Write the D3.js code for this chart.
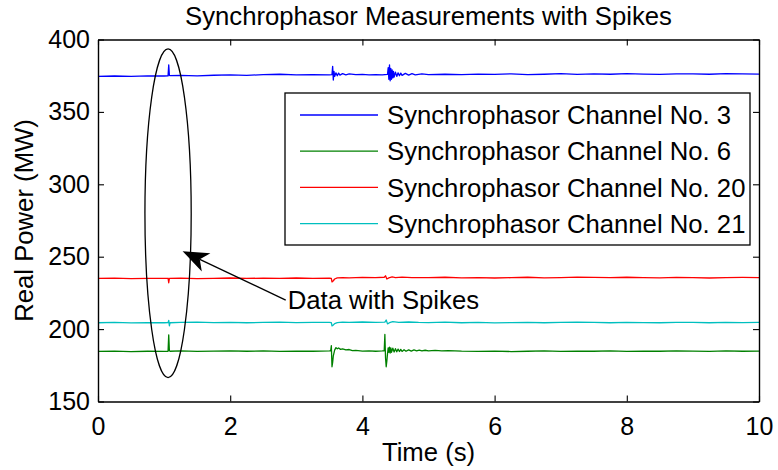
<!DOCTYPE html>
<html>
<head>
<meta charset="utf-8">
<script src="https://cdn.jsdelivr.net/npm/d3@7"></script>
<style>
  body { margin: 0; background: #fff; }
  svg { display: block; }
  text { font-family: "Liberation Sans", Arial, Helvetica, sans-serif; fill: #000; }
</style>
</head>
<body>
<svg id="chart" width="778" height="470"></svg>
<script>
// ---------------- DATA ----------------
const xTicks = [0, 2, 4, 6, 8, 10];
const yTicks = [150, 200, 250, 300, 350, 400];
const channelNames = [
  "Synchrophasor Channel No. 3",
  "Synchrophasor Channel No. 6",
  "Synchrophasor Channel No. 20",
  "Synchrophasor Channel No. 21"
];
const channelColors = ["#0000ff", "#008000", "#ff0000", "#00bfbf"];

// [time (s), real power (MW)]
const ch3 = [
  [0,374.6],[0.25,374.8],[0.5,374.5],[0.75,374.9],[1.0,374.8],[1.06,374.9],[1.07,382.5],[1.08,375.2],[1.09,375.0],
  [1.25,375.2],[1.5,374.9],[1.75,375.3],[2.0,375.6],[2.25,375.2],[2.5,375.8],[2.75,376.0],[3.0,375.6],[3.25,375.8],
  [3.5,375.6],[3.54,375.8],[3.55,381.5],[3.56,372.0],[3.57,378.0],[3.58,374.5],[3.6,377.0],[3.62,375.0],[3.64,376.8],
  [3.66,375.4],[3.7,376.4],[3.75,375.6],[3.8,376.2],[3.9,375.7],[4.0,375.9],[4.1,375.6],[4.2,375.8],[4.3,375.5],
  [4.38,375.9],[4.39,380.5],[4.40,372.5],[4.41,382.5],[4.42,371.5],[4.43,380.0],[4.44,372.5],[4.45,379.0],[4.46,373.5],
  [4.47,378.0],[4.48,374.0],[4.5,377.5],[4.52,374.5],[4.54,377.0],[4.56,375.0],[4.58,376.8],[4.6,375.2],[4.65,376.6],
  [4.7,375.4],[4.75,376.4],[4.8,375.6],[4.9,376.2],[5.0,375.8],[5.25,376.0],[5.5,375.7],[5.75,376.1],[6.0,375.9],
  [6.25,376.3],[6.5,375.8],[6.75,376.0],[7.0,376.4],[7.25,375.9],[7.5,376.2],[7.75,376.0],[8.0,376.5],[8.25,376.1],
  [8.5,375.9],[8.75,376.3],[9.0,376.2],[9.25,376.0],[9.5,376.4],[9.75,376.2],[10.0,376.1]
];
const ch6 = [
  [0,184.6],[0.25,184.8],[0.5,184.5],[0.75,184.7],[1.0,184.6],[1.06,184.7],[1.07,196.0],[1.08,185.0],[1.09,184.7],
  [1.25,184.9],[1.5,184.6],[1.75,184.8],[2.0,185.0],[2.25,184.7],[2.5,184.9],[2.75,184.6],[3.0,184.8],[3.25,184.7],
  [3.5,184.9],[3.52,185.0],[3.53,188.5],[3.54,174.0],[3.55,177.0],[3.56,181.5],[3.58,185.5],[3.6,187.2],[3.62,186.4],
  [3.64,187.0],[3.67,186.0],[3.7,186.4],[3.75,185.6],[3.8,185.9],[3.85,185.2],[3.9,185.3],[4.0,184.8],[4.1,185.0],
  [4.2,184.7],[4.3,184.9],[4.33,185.0],[4.34,196.3],[4.35,180.0],[4.36,174.0],[4.37,178.0],[4.38,183.0],[4.39,187.0],
  [4.40,184.0],[4.41,187.5],[4.42,183.5],[4.43,187.0],[4.44,184.0],[4.46,186.8],[4.48,184.2],[4.50,186.5],[4.52,184.3],
  [4.54,186.2],[4.56,184.5],[4.58,186.0],[4.60,184.6],[4.63,185.8],[4.66,184.7],[4.70,185.7],[4.74,184.8],[4.78,185.6],
  [4.82,184.9],[4.86,185.5],[4.9,184.9],[4.95,185.4],[5.0,185.0],[5.1,185.3],[5.2,184.9],[5.3,185.2],[5.5,184.8],
  [5.75,184.6],[6.0,184.8],[6.25,184.5],[6.5,184.7],[6.75,184.9],[7.0,184.6],[7.25,184.8],[7.5,184.7],[7.75,184.9],
  [8.0,184.6],[8.25,184.8],[8.5,184.7],[8.75,185.0],[9.0,184.8],[9.25,184.6],[9.5,184.9],[9.75,184.7],[10.0,184.8]
];
const ch20 = [
  [0,235.0],[0.25,235.2],[0.5,234.9],[0.75,235.1],[1.0,235.0],[1.06,235.1],[1.07,232.0],[1.08,235.0],[1.25,235.2],
  [1.5,234.9],[1.75,235.1],[2.0,235.3],[2.25,235.0],[2.5,235.2],[2.75,235.1],[3.0,235.3],[3.25,235.0],[3.5,235.2],
  [3.53,235.0],[3.54,232.6],[3.56,233.4],[3.58,234.6],[3.62,235.4],[3.7,235.6],[3.8,235.4],[4.0,235.7],[4.2,235.6],
  [4.33,235.8],[4.35,236.8],[4.37,234.6],[4.40,235.4],[4.45,236.0],[4.5,235.6],[4.6,235.9],[4.75,235.6],[5.0,235.5],
  [5.25,235.8],[5.5,235.4],[5.75,235.6],[6.0,235.3],[6.25,235.5],[6.5,235.8],[6.75,235.4],[7.0,235.6],[7.25,235.9],
  [7.5,235.7],[7.75,235.5],[8.0,235.8],[8.25,235.6],[8.5,235.4],[8.75,235.7],[9.0,235.6],[9.25,235.3],[9.5,235.6],
  [9.75,235.7],[10.0,235.6]
];
const ch21 = [
  [0,204.4],[0.25,204.6],[0.5,204.3],[0.75,204.5],[1.0,204.4],[1.06,204.5],[1.07,206.0],[1.08,202.3],[1.09,204.4],
  [1.25,204.6],[1.5,204.8],[1.75,204.5],[2.0,204.7],[2.25,204.4],[2.5,204.6],[2.75,204.8],[3.0,204.5],[3.25,204.7],
  [3.5,204.6],[3.53,204.4],[3.54,202.2],[3.56,202.8],[3.58,203.8],[3.62,204.5],[3.7,204.8],[3.8,204.6],[4.0,204.9],
  [4.2,204.7],[4.34,204.8],[4.36,206.3],[4.38,203.6],[4.41,204.4],[4.46,205.1],[4.55,204.7],[4.7,204.9],[4.85,204.6],
  [5.0,204.5],[5.25,204.8],[5.5,204.4],[5.75,204.6],[6.0,204.3],[6.25,204.5],[6.5,204.7],[6.75,204.4],[7.0,204.6],
  [7.25,204.8],[7.5,204.6],[7.75,204.4],[8.0,204.7],[8.25,204.5],[8.5,204.4],[8.75,204.6],[9.0,204.7],[9.25,204.4],
  [9.5,204.6],[9.75,204.5],[10.0,204.6]
];
const seriesData = [ch3, ch6, ch20, ch21];

// annotation (data coordinates)
const annotationText = "Data with Spikes";
const ellipseCenter = [1.06, 280];     // [s, MW]
const ellipseRadii = [0.35, 113.5];    // [s, MW]
const arrowTip = [1.28, 253.8];
const arrowTail = [2.84, 220];

// ---------------- LAYOUT ----------------
const svg = d3.select("#chart");
const pLeft = 98, pRight = 759, pTop = 39.5, pBottom = 401.5;
const x = d3.scaleLinear().domain([0, 10]).range([pLeft, pRight]);
const y = d3.scaleLinear().domain([150, 400]).range([pBottom, pTop]);
const FS = 25;     // tick labels
const FL = 25.7;   // title, axis labels, legend, annotation

// lines
const line = d3.line().x(d => x(d[0])).y(d => y(d[1]));
const plot = svg.append("g");
plot.append("defs").append("clipPath").attr("id", "clip")
  .append("rect").attr("x", pLeft).attr("y", pTop).attr("width", pRight - pLeft).attr("height", pBottom - pTop);
seriesData.forEach((s, i) => {
  plot.append("path").datum(s)
    .attr("clip-path", "url(#clip)")
    .attr("fill", "none")
    .attr("stroke", channelColors[i])
    .attr("stroke-width", 1.3)
    .attr("stroke-linejoin", "round")
    .attr("d", line);
});

// axes (box with inward ticks)
function styleAxis(g) {
  g.selectAll("path.domain").attr("stroke", "#000").attr("stroke-width", 1.4);
  g.selectAll(".tick line").attr("stroke", "#000").attr("stroke-width", 1.1);
  g.selectAll("text").attr("font-size", FS).attr("font-family", '"Liberation Sans", Arial, sans-serif').attr("fill", "#000");
}
svg.append("g").attr("transform", `translate(0,${pBottom})`)
  .call(d3.axisBottom(x).tickValues(xTicks).tickFormat(d3.format("d")).tickSizeInner(-6).tickSizeOuter(0).tickPadding(16))
  .call(styleAxis);
svg.append("g").attr("transform", `translate(0,${pTop})`)
  .call(d3.axisTop(x).tickValues(xTicks).tickFormat("").tickSizeInner(-6).tickSizeOuter(0))
  .call(styleAxis);
svg.append("g").attr("transform", `translate(${pLeft},0)`)
  .call(d3.axisLeft(y).tickValues(yTicks).tickFormat(d3.format("d")).tickSizeInner(-6).tickSizeOuter(0).tickPadding(8))
  .call(styleAxis);
svg.append("g").attr("transform", `translate(${pRight},0)`)
  .call(d3.axisRight(y).tickValues(yTicks).tickFormat("").tickSizeInner(-6).tickSizeOuter(0))
  .call(styleAxis);

// titles
svg.append("text").attr("x", (pLeft + pRight) / 2).attr("y", 25)
  .attr("text-anchor", "middle").attr("font-size", FL).text("Synchrophasor Measurements with Spikes");
svg.append("text").attr("x", (pLeft + pRight) / 2).attr("y", 461)
  .attr("text-anchor", "middle").attr("font-size", FL).text("Time (s)");
svg.append("text").attr("transform", `translate(33,${(pTop + pBottom) / 2}) rotate(-90)`)
  .attr("text-anchor", "middle").attr("font-size", FL).text("Real Power (MW)");

// legend
const lg = svg.append("g");
lg.append("rect").attr("x", 285).attr("y", 93).attr("width", 465).attr("height", 152)
  .attr("fill", "#fff").attr("stroke", "#000").attr("stroke-width", 1.3);
channelNames.forEach((name, i) => {
  const cy = 115 + i * 36.2;
  lg.append("line").attr("x1", 300).attr("x2", 378).attr("y1", cy).attr("y2", cy)
    .attr("stroke", channelColors[i]).attr("stroke-width", 1.3);
  lg.append("text").attr("x", 387).attr("y", cy).attr("dy", "0.36em")
    .attr("font-size", FL).text(name);
});

// annotation: ellipse + text arrow
svg.append("ellipse")
  .attr("cx", x(ellipseCenter[0])).attr("cy", y(ellipseCenter[1]))
  .attr("rx", x(ellipseCenter[0] + ellipseRadii[0]) - x(ellipseCenter[0]))
  .attr("ry", y(ellipseCenter[1] - ellipseRadii[1]) - y(ellipseCenter[1]))
  .attr("fill", "none").attr("stroke", "#000").attr("stroke-width", 1.3);

const tip = [x(arrowTip[0]), y(arrowTip[1])];
const tail = [x(arrowTail[0]), y(arrowTail[1])];
const ddx = tail[0] - tip[0], ddy = tail[1] - tip[1];
const len = Math.hypot(ddx, ddy);
const u = [ddx / len, ddy / len], nv = [-u[1], u[0]];
const HL = 26, HW = 10, HN = 19;
svg.append("line").attr("x1", tip[0] + u[0] * HN).attr("y1", tip[1] + u[1] * HN)
  .attr("x2", tail[0]).attr("y2", tail[1]).attr("stroke", "#000").attr("stroke-width", 1.3);
const head = [
  tip,
  [tip[0] + u[0] * HL + nv[0] * HW, tip[1] + u[1] * HL + nv[1] * HW],
  [tip[0] + u[0] * HN, tip[1] + u[1] * HN],
  [tip[0] + u[0] * HL - nv[0] * HW, tip[1] + u[1] * HL - nv[1] * HW]
];
svg.append("path").attr("d", "M" + head.map(p => p.join(",")).join("L") + "Z").attr("fill", "#000");
svg.append("text").attr("x", tail[0] + 2).attr("y", tail[1]).attr("dy", "0.36em")
  .attr("font-size", FL).text(annotationText);
</script>
</body>
</html>
